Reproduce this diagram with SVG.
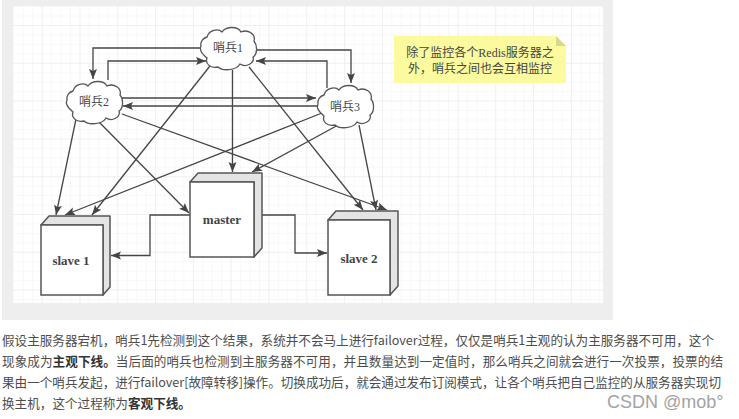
<svg xmlns="http://www.w3.org/2000/svg" width="739" height="419" viewBox="0 0 739 419">
<style>
.conn{fill:none;stroke:#454545;stroke-width:1.3;marker-end:url(#arrow)}
.cloud{fill:#fff;stroke:#555;stroke-width:1.3}
.front{fill:#fff;stroke:#555;stroke-width:1.5}
.side{fill:#e4e4e4;stroke:#555;stroke-width:1.5;stroke-linejoin:round}
.lbl{font-family:"Liberation Serif","Noto Sans CJK SC",serif;font-size:12px;fill:#444;text-anchor:middle}
.box{font-family:"Liberation Serif",serif;font-size:13px;font-weight:bold;fill:#444;text-anchor:middle}
.body{font-family:"Noto Sans CJK SC","Noto Sans",sans-serif;font-size:12.6px;fill:#4d4d4d}
.body tspan{font-weight:bold;fill:#333}
</style>
<defs>
<pattern id="minor" x="13.3" y="6.1" width="9.45" height="9.45" patternUnits="userSpaceOnUse"><path d="M0 0V9.45M0 0H9.45" fill="none" stroke="#f1f1f1" stroke-width="1"/></pattern>
<pattern id="major" x="41.7" y="25" width="37.8" height="37.8" patternUnits="userSpaceOnUse"><path d="M0 0V37.8M0 0H37.8" fill="none" stroke="#e9e9e9" stroke-width="1"/></pattern>
<marker id="arrow" markerUnits="userSpaceOnUse" markerWidth="11" markerHeight="10" refX="10" refY="5" orient="auto"><path d="M0 1 L10 5 L0 9 L2 5 Z" fill="#454545"/></marker>
<path id="cloudShape" d="M7 11C9 4 18 2 22 6C26 0 38 0 41 6C48 3 56 8 54 15C58 20 57 29 53 31C55 37 46 42 40 38C36 45 22 45 18 41C10 43 5 37 7 32C2 28-1 24 1 20C0 16 3 12 7 11Z"/>
</defs>
<rect x="2" y="0" width="611" height="320" fill="#eeeeee"/>
<rect x="13" y="6" width="590" height="297" fill="#fff"/>
<rect x="13" y="6" width="590" height="297" fill="url(#minor)"/>
<rect x="13" y="6" width="590" height="297" fill="url(#major)"/>
<g id="connectors">
<path class="conn" d="M200 48H93V79"/>
<path class="conn" d="M108 80V61H206"/>
<path class="conn" d="M255 50H351V83"/>
<path class="conn" d="M327 88V61H256"/>
<path class="conn" d="M122 98H316"/>
<path class="conn" d="M317 106H123"/>
<path class="conn" d="M210 66L92 215"/>
<path class="conn" d="M232.500 70V172"/>
<path class="conn" d="M249 67L363 210"/>
<path class="conn" d="M76 119L56 215"/>
<path class="conn" d="M99 122L189 213"/>
<path class="conn" d="M122 114L387 210"/>
<path class="conn" d="M322 113L65 215"/>
<path class="conn" d="M340 124L252 172"/>
<path class="conn" d="M359 125L376 210"/>
<path class="conn" d="M190 215H150V255.500H111"/>
<path class="conn" d="M262 215H295V253H327"/>
</g>
<g id="sentinel1"><use href="#cloudShape" class="cloud" x="200" y="26"/><text class="lbl" x="228" y="52">哨兵1</text></g>
<g id="sentinel2"><use href="#cloudShape" class="cloud" x="66" y="80"/><text class="lbl" x="94" y="106">哨兵2</text></g>
<g id="sentinel3"><use href="#cloudShape" class="cloud" x="317" y="84"/><text class="lbl" x="345" y="111">哨兵3</text></g>
<g id="slave1">
<path class="side" d="M41 225L49 216H110V287L103 295V225ZM41 225H103"/>
<rect class="front" x="41" y="225" width="62" height="70"/>
<text class="box" x="71" y="265">slave 1</text>
</g>
<g id="master">
<path class="side" d="M190 182L198 173H262V248L254 257V182ZM190 182H254"/>
<rect class="front" x="190" y="182" width="64" height="75"/>
<text class="box" x="222" y="224">master</text>
</g>
<g id="slave2">
<path class="side" d="M328 220L336 211H398V286L390 295V220ZM328 220H390"/>
<rect class="front" x="328" y="220" width="62" height="75"/>
<text class="box" x="359" y="263">slave 2</text>
</g>
<g id="note">
<path d="M394 36H556L566 46V83H394Z" fill="#fbfa9e"/>
<path d="M556 36L566 46H556Z" fill="#d8d88a"/>
<text class="lbl" x="480" y="57">除了监控各个Redis服务器之</text>
<text class="lbl" x="480" y="73">外，哨兵之间也会互相监控</text>
</g>
<text class="body" x="2" y="345" textLength="712" lengthAdjust="spacing">假设主服务器宕机，哨兵1先检测到这个结果，系统并不会马上进行failover过程，仅仅是哨兵1主观的认为主服务器不可用，这个</text>
<text class="body" x="2" y="366" textLength="721" lengthAdjust="spacing">现象成为<tspan>主观下线。</tspan>当后面的哨兵也检测到主服务器不可用，并且数量达到一定值时，那么哨兵之间就会进行一次投票，投票的结</text>
<text class="body" x="2" y="387" textLength="719" lengthAdjust="spacing">果由一个哨兵发起，进行failover[故障转移]操作。切换成功后，就会通过发布订阅模式，让各个哨兵把自己监控的从服务器实现切</text>
<text class="body" x="2" y="408">换主机，这个过程称为<tspan>客观下线。</tspan></text>
<text x="607" y="408" font-family="'Liberation Sans',sans-serif" font-size="18" fill="#a3a3a3">CSDN @mob°</text>
</svg>
